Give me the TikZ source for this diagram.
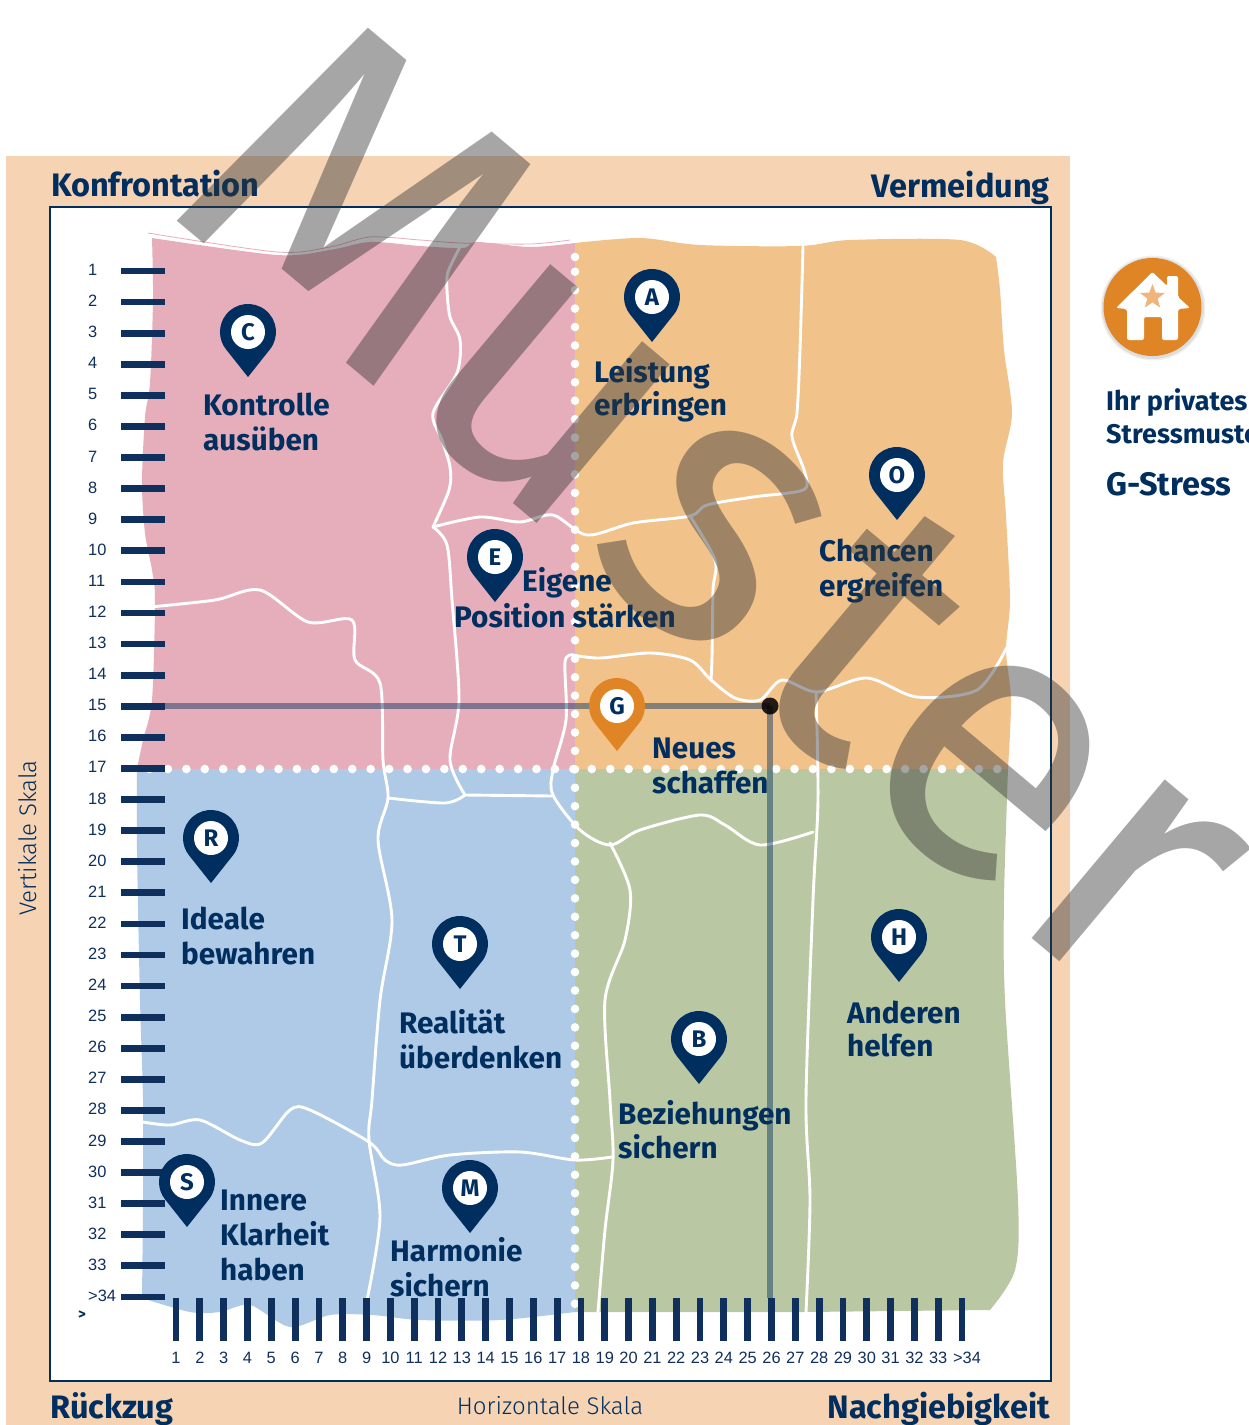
\documentclass[tikz,border=0pt]{standalone}
\usepackage{fontspec}
\setmainfont{Fira Sans}
\newfontfamily\numfont{Liberation Sans}
\newfontfamily\lightfont{Fira Sans Light}
\usetikzlibrary{shapes.geometric}
\definecolor{navy}{HTML}{002F5F}
\definecolor{tickc}{HTML}{0F2F5C}
\definecolor{peach}{HTML}{F5D3B3}
\definecolor{rosa}{HTML}{E6AEBB}
\definecolor{oran}{HTML}{F2C28B}
\definecolor{blau}{HTML}{AFCAE6}
\definecolor{gruen}{HTML}{B9C8A2}
\definecolor{pinor}{HTML}{E08526}
\definecolor{starc}{HTML}{EFB57C}
\definecolor{wm}{RGB}{52,52,52}
\tikzset{
  x=1pt,y=-1pt,
  border/.style={white,line width=2.9pt,line join=round,line cap=round},
  guide/.style={navy,opacity=.45,line width=6pt},
  dots/.style={white,line width=8.6pt,line cap=round,dash pattern=on 0pt off 18.43pt},
  hbar/.style={tickc,line width=6.8pt},
  lab/.style={text=navy,font=\fontsize{29.7}{35}\selectfont\bfseries,align=left,inner sep=0pt,anchor=base west},
  corner/.style={text=navy,font=\fontsize{32.5}{38}\selectfont\bfseries,inner sep=0pt},
  scalelab/.style={text=navy,font=\lightfont\fontsize{24}{30}\selectfont,inner sep=0pt},
  num/.style={text=tickc,font=\numfont\fontsize{16.4}{18}\selectfont,inner sep=0pt},
  pinlab/.style={circle,fill=white,minimum size=34pt,inner sep=0pt,text=navy,font=\fontsize{24}{24}\selectfont\bfseries},
}
\newcommand\pinmark[4]{%
  \fill[#4,shift={(#1,#2)}] (0,45) -- (21.9,17.4) arc[start angle=38.5,end angle=-218.5,radius=28] -- cycle;
  \node[pinlab] (pin#3) at (#1,#2) {#3};}
\begin{document}
\begin{tikzpicture}
\useasboundingbox (0,0) rectangle (1249,1425);
\fill[peach] (6,156) rectangle (1070,1425);
\draw[navy,fill=white,line width=2.4pt] (50,207) rectangle (1051,1381);
% quadrants
\fill[rosa] plot[smooth,tension=.5] coordinates {(137,769)(143,740)(152,700)(155,600)(152,570)(145,533)(142,483)(145,417)(150,383)(153,300)(152,238)} -- plot[smooth,tension=.5] coordinates {(152,238)(277,255)(330,250)(370,242)(420,246)(463,248)(477,242)(530,247)(575,243)} -- (575,769) -- cycle;
\fill[oran] plot[smooth,tension=.5] coordinates {(575,243)(640,238)(700,245)(800,246)(850,240)(960,240)(996,257)} -- plot[smooth,tension=.5] coordinates {(996,257)(1000,290)(1004,350)(1012,413)(1003,463)(1006,516)(1010,600)(1006,650)(1011,700)(1008,769)} -- (575,769) -- cycle;
\fill[gruen] plot[smooth,tension=.5] coordinates {(1008,769)(1004,900)(1005,1000)(1018,1200)(1015,1270)(990,1310)} -- (805,1312) -- (575,1312) -- (575,769) -- cycle;
\fill[blau] plot[smooth,tension=.5] coordinates {(575,1312)(500,1320)(420,1320)(372,1315)(330,1315)(290,1327)(250,1305)(220,1312)(190,1312)(142,1298)} -- plot[smooth,tension=.5] coordinates {(142,1298)(143,1200)(143,1100)(140,1000)(137,850)(137,769)} -- (575,769) -- cycle;
% thin outline above the pink field
\draw[rosa,line width=.8pt] plot[smooth,tension=.5] coordinates {(148,233)(277,252)(330,247)(370,237)(420,240)(460,243)(530,244)(570,240)};
% region borders
\draw[border] plot[smooth,tension=.5] coordinates {(460,247)(448,272)(447,290)(450,317)(460,340)(457,373)(433,413)(442,440)(450,467)(449,490)(433,527)};
\draw[border] plot[smooth,tension=.5] coordinates {(433,527)(480,517)(520,522)(553,515)(587,535)(633,523)(690,516)(707,505)(753,497)(803,490)(805,473)(792,437)(797,413)(800,350)(803,247)};
\draw[border] plot[smooth,tension=.5] coordinates {(690,516)(715,560)(713,590)(712,657)(711,680)};
\draw[border] plot[smooth,tension=.5] coordinates {(573,655)(600,658)(650,653)(690,660)(711,680)(735,698)(760,700)(782,680)(817,692)(867,678)(917,697)(977,690)(1007,647)};
\draw[border] plot[smooth,tension=.5] coordinates {(573,655)(565,662)(566,720)(553,770)(553,795)(580,830)(610,845)(640,830)(700,815)(725,825)(760,845)(813,832)};
\draw[border] plot[smooth,tension=.5] coordinates {(816,692)(818,800)(813,900)(806,1100)(810,1200)(806,1312)};
\draw[border] plot[smooth,tension=.5] coordinates {(610,843)(630,890)(625,940)(605,1000)(610,1100)(613,1160)(605,1230)(598,1312)};
\draw[border] plot[smooth,tension=.5] coordinates {(433,527)(447,545)(452,600)(459,700)(450,760)(465,795)};
\draw[border] (465,795) -- (553,796);
\draw[border] plot[smooth,tension=.5] coordinates {(465,795)(445,803)(388,798)};
\draw[border] plot[smooth,tension=.5] coordinates {(150,607)(215,600)(260,590)(308,622)(352,620)(355,660)(380,683)(383,760)(388,798)(378,840)(392,920)(380,1000)(372,1100)(369,1140)(380,1217)(367,1300)};
\draw[border] plot[smooth,tension=.5] coordinates {(143,1122)(170,1125)(200,1120)(240,1140)(262,1143)(290,1110)(310,1110)(369,1142)(385,1160)(402,1165)(450,1155)(520,1152)(575,1160)(612,1157)};
% dotted axes
\fill[white] (575,257) circle (4.3);
\draw[dots] (575,271.7) -- (575,1310);
\draw[dots] (149.5,769) -- (1008,769);
% guides
\coordinate (gl) at (165,706);
\coordinate (gb) at (770,1298);
\coordinate (gc) at (770,706);
\draw[guide] (gl) -- (gc);
\draw[guide] (gc) -- (gb);
\node[circle,fill=black,minimum size=17pt,inner sep=0pt,opacity=.85] (hit) at (gc) {};
% vertical scale
\foreach \n in {1,...,33}{
  \pgfmathsetmacro\yy{271+(\n-1)*31.09}
  \draw[hbar] (121,\yy) -- (165,\yy);
  \node[num,anchor=base west] (v\n) at (88,\yy+4.5) {\n};
}
\draw[hbar] (121,1297) -- (165,1297);
\node[num,anchor=base west] (v34) at (88,1301) {>34};
\node[text=navy,font=\fontsize{15}{15}\selectfont\bfseries,inner sep=0pt] (gt) at (82,1315) {>};
% horizontal scale
\foreach \n in {1,...,34}{
  \pgfmathsetmacro\xx{176+(\n-1)*23.82}
  \draw[tickc,line width=6.8pt] (\xx,1298) -- (\xx,1341);
}
\foreach \n in {1,...,33}{
  \pgfmathsetmacro\xx{176+(\n-1)*23.82}
  \node[num,anchor=base] (h\n) at (\xx,1363) {\n};
}
\node[num,anchor=base] (h34) at (967,1363) {>34};
% pins
\pinmark{248}{332}{C}{navy}
\pinmark{652}{297}{A}{navy}
\pinmark{897}{475}{O}{navy}
\pinmark{495}{557}{E}{navy}
\pinmark{617}{706}{G}{pinor}
\pinmark{211}{838}{R}{navy}
\pinmark{460}{944}{T}{navy}
\pinmark{699}{1039}{B}{navy}
\pinmark{899}{937}{H}{navy}
\pinmark{187}{1182}{S}{navy}
\pinmark{470}{1188}{M}{navy}
% labels (the y is that of the last line)
\node[lab] (l1) at (203,450) {Kontrolle\\ausüben};
\node[lab] (l2) at (594,415) {Leistung\\[-2pt]erbringen};
\node[lab] (l3) at (819,596) {Chancen\\ergreifen};
\node[lab] (l4) at (522,591) {Eigene};
\node[lab] (l5) at (454,627) {Position stärken};
\node[lab] (l6) at (652,793) {Neues\\schaffen};
\node[lab] (l7) at (181,964) {Ideale\\bewahren};
\node[lab] (l8) at (399,1068) {Realität\\überdenken};
\node[lab] (l9) at (618,1158) {Beziehungen\\[-1pt]sichern};
\node[lab] (l10) at (847,1056) {Anderen\\[-2pt]helfen};
\node[lab] (l11) at (220,1280) {Innere\\Klarheit\\haben};
\node[lab] (l12) at (390,1296) {Harmonie\\sichern};
% corners
\node[corner,anchor=base west] (k1) at (51,196) {Konfrontation};
\node[corner,anchor=base east] (k2) at (1050,197) {Vermeidung};
\node[corner,anchor=base west] (k3) at (50,1418) {Rückzug};
\node[corner,anchor=base east] (k4) at (1050,1418) {Nachgiebigkeit};
\node[scalelab] (sh) at (550,1406) {Horizontale Skala};
\node[scalelab,rotate=90] (sv) at (28,838) {Vertikale Skala};
% house icon
\fill[black,opacity=.06] (1153,308) circle (52.5);
\fill[black,opacity=.08] (1153,308) circle (51);
\node[circle,fill=pinor,minimum size=98pt,inner sep=0pt] (icon) at (1152.5,307) {};
\fill[white,rounded corners=2pt] (1152.5,272) -- (1167,286) -- (1167,276) -- (1178,276) -- (1178,297) -- (1190,308) -- (1178,309) -- (1178,340) -- (1162,340) -- (1162,317) -- (1144,317) -- (1144,340) -- (1127,340) -- (1127,309) -- (1116,308) -- cycle;
\node[star,star points=5,star point ratio=2.4,fill=starc,minimum size=26pt,inner sep=0pt] (st) at (1152.5,297) {};
\node[lab,font=\fontsize{27}{33}\selectfont\bfseries] (t1) at (1106,443) {Ihr privates\\Stressmuster};
\node[lab,font=\fontsize{32.5}{38}\selectfont\bfseries] (t2) at (1106,495) {G-Stress};
% watermark
\node[rotate=-40,anchor=base west,inner sep=0pt,text=wm,text opacity=.44,font=\fontsize{393}{393}\selectfont] (wm) at (158,205) {M\kern-2pt u\kern12pt s\kern20pt t\kern0pt e\kern0pt r};
\end{tikzpicture}
\end{document}
